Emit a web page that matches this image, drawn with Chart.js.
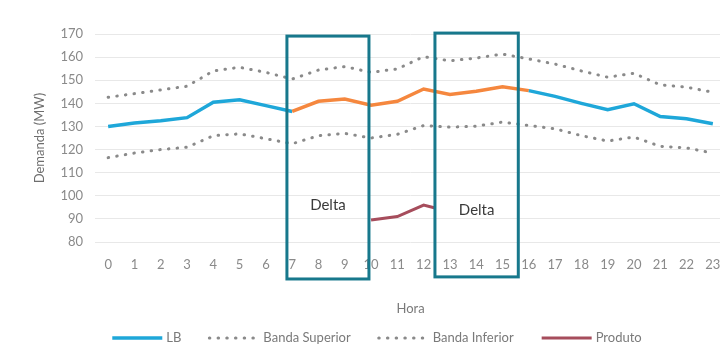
<!DOCTYPE html>
<html>
<head>
<meta charset="utf-8">
<script src="https://cdn.jsdelivr.net/npm/chart.js@4.4.1/dist/chart.umd.min.js"></script>
<style>
  html, body { margin: 0; padding: 0; background: #ffffff; overflow: hidden; }
  #wrap { width: 730px; height: 354px; }
</style>
</head>
<body>
<div id="wrap"><canvas id="chart"></canvas></div>
<script>
// Hourly demand (MW)
const hours = [0, 1, 2, 3, 4, 5, 6, 7, 8, 9, 10, 11, 12, 13, 14, 15, 16, 17, 18, 19, 20, 21, 22, 23];
const lb = [130, 131.5, 132.5, 133.8, 140.5, 141.5, 139, 136.5, 140.9, 141.9, 139.2, 140.9,
            146.2, 143.8, 145.2, 147.2, 145.5, 143, 140, 137.2, 139.8, 134.3, 133.3, 131.2];
const bandaSuperior = [142.6, 144.2, 145.8, 147.4, 154, 155.6, 153.4, 150.5, 154.4, 155.9, 153.4, 154.9,
                       160.2, 158.4, 159.6, 161.3, 159.2, 157, 154, 151.3, 153, 148, 147, 144.8];
const bandaInferior = [116.5, 118.5, 120, 121, 126, 126.8, 124.7, 122.5, 126, 127, 125, 126.6,
                       130.4, 129.7, 130.1, 131.9, 130.4, 129, 126, 123.7, 125.4, 121.4, 120.7, 118.5];
const produtoHoras = [10, 11, 12, 12.4];
const produto = [89.5, 91, 96, 94.8];
const yTicks = [80, 90, 100, 110, 120, 130, 140, 150, 160, 170];

// hours of LB drawn in the highlight colour
const destaqueInicio = 7, destaqueFim = 16;

// "Delta" frames, in axis units
const deltaFrames = [
  { x0: 6.8,  x1: 9.92, top: 169.1, bottom: 64,   labelY: 96,   text: 'Delta' },
  { x0: 12.43, x1: 15.6, top: 170.4, bottom: 64.9, labelY: 93.8, text: 'Delta' }
];

const FONT = 'Lato, "Open Sans", sans-serif';
const BLUE = '#1ea7d9', ORANGE = '#f5873e', GREY = '#8a8a8a', WINE = '#a64d5c', TEAL = '#17788c';
const DOTS = [0.5, 8.2];

const pts = (xs, ys) => xs.map((x, i) => ({ x, y: ys[i] }));

const deltaPlugin = {
  id: 'deltaFrames',
  afterDatasetsDraw(chart) {
    const { ctx, scales: { x, y } } = chart;
    ctx.save();
    ctx.strokeStyle = TEAL;
    ctx.lineWidth = 3;
    deltaFrames.forEach(f => {
      const l = x.getPixelForValue(f.x0), r = x.getPixelForValue(f.x1);
      const t = y.getPixelForValue(f.top), b = y.getPixelForValue(f.bottom);
      ctx.strokeRect(l, t, r - l, b - t);
      ctx.fillStyle = '#3a3a3a';
      ctx.font = '15px ' + FONT;
      ctx.textAlign = 'center';
      ctx.textBaseline = 'middle';
      ctx.fillText(f.text, (l + r) / 2, y.getPixelForValue(f.labelY));
    });
    ctx.restore();
  }
};

// Legend row: a 50px line sample in each dataset's style, then its label
const lineLegend = {
  id: 'lineLegend',
  afterDraw(chart) {
    const { ctx } = chart;
    const sample = 50, gapText = 4, gapItem = 28;
    ctx.save();
    ctx.font = '13px ' + FONT;
    const items = chart.data.datasets.map(ds => ({ ds, w: ctx.measureText(ds.label).width }));
    const total = items.reduce((s, it) => s + sample + gapText + it.w, 0) + gapItem * (items.length - 1);
    let x = chart.width / 2 + 12 - total / 2;
    const y = chart.height - 16;
    items.forEach(({ ds, w }) => {
      ctx.beginPath();
      ctx.strokeStyle = ds.borderColor;
      ctx.lineWidth = ds.borderWidth;
      ctx.lineCap = ds.borderDash ? 'round' : 'butt';
      ctx.setLineDash(ds.borderDash || []);
      ctx.moveTo(x, y);
      ctx.lineTo(x + sample, y);
      ctx.stroke();
      ctx.setLineDash([]);
      ctx.fillStyle = '#7a7a7a';
      ctx.textAlign = 'left';
      ctx.textBaseline = 'middle';
      ctx.fillText(ds.label, x + sample + gapText, y);
      x += sample + gapText + w + gapItem;
    });
    ctx.restore();
  }
};

new Chart(document.getElementById('chart'), {
  type: 'line',
  data: {
    datasets: [
      {
        label: 'LB',
        data: pts(hours, lb),
        borderColor: BLUE,
        backgroundColor: BLUE,
        borderWidth: 3.5,
        pointRadius: 0,
        tension: 0,
        segment: {
          borderColor: c => (c.p0.parsed.x >= destaqueInicio && c.p1.parsed.x <= destaqueFim) ? ORANGE : BLUE
        }
      },
      {
        label: 'Banda Superior',
        data: pts(hours, bandaSuperior),
        borderColor: GREY,
        backgroundColor: GREY,
        borderWidth: 3,
        borderDash: DOTS,
        borderCapStyle: 'round',
        pointRadius: 0
      },
      {
        label: 'Banda Inferior',
        data: pts(hours, bandaInferior),
        borderColor: GREY,
        backgroundColor: GREY,
        borderWidth: 3,
        borderDash: DOTS,
        borderCapStyle: 'round',
        pointRadius: 0
      },
      {
        label: 'Produto',
        data: pts(produtoHoras, produto),
        borderColor: WINE,
        backgroundColor: WINE,
        borderWidth: 3,
        pointRadius: 0
      }
    ]
  },
  options: {
    responsive: true,
    maintainAspectRatio: false,
    animation: false,
    layout: { padding: { top: 34, left: 32, right: 4, bottom: 33 } },
    plugins: {
      legend: { display: false },
      tooltip: { enabled: false }
    },
    scales: {
      x: {
        type: 'linear',
        min: -0.5,
        max: 23.5,
        grid: { display: false },
        border: { display: false },
        afterBuildTicks: axis => { axis.ticks = hours.map(h => ({ value: h })); },
        afterFit: axis => { axis.height = 79; },
        ticks: {
          autoSkip: false,
          maxRotation: 0,
          padding: 7,
          color: '#8a8a8a',
          font: { family: FONT, size: 13 },
          callback: v => String(v)
        },
        title: {
          display: true,
          text: 'Hora',
          color: '#7a7a7a',
          font: { family: FONT, size: 13 },
          padding: { top: 0, bottom: 4 }
        }
      },
      y: {
        min: 80,
        max: 170,
        afterBuildTicks: axis => { axis.ticks = yTicks.map(v => ({ value: v })); },
        afterFit: axis => { axis.width = 63; },
        grid: { color: '#e8e8e8', lineWidth: 1, drawTicks: false },
        border: { display: false },
        ticks: {
          padding: 12,
          color: '#8a8a8a',
          font: { family: FONT, size: 13 }
        },
        title: {
          display: true,
          text: 'Demanda (MW)',
          color: '#6e6e6e',
          font: { family: FONT, size: 13 },
          padding: { top: 0, bottom: 0 }
        }
      }
    }
  },
  plugins: [deltaPlugin, lineLegend]
});
</script>
</body>
</html>
